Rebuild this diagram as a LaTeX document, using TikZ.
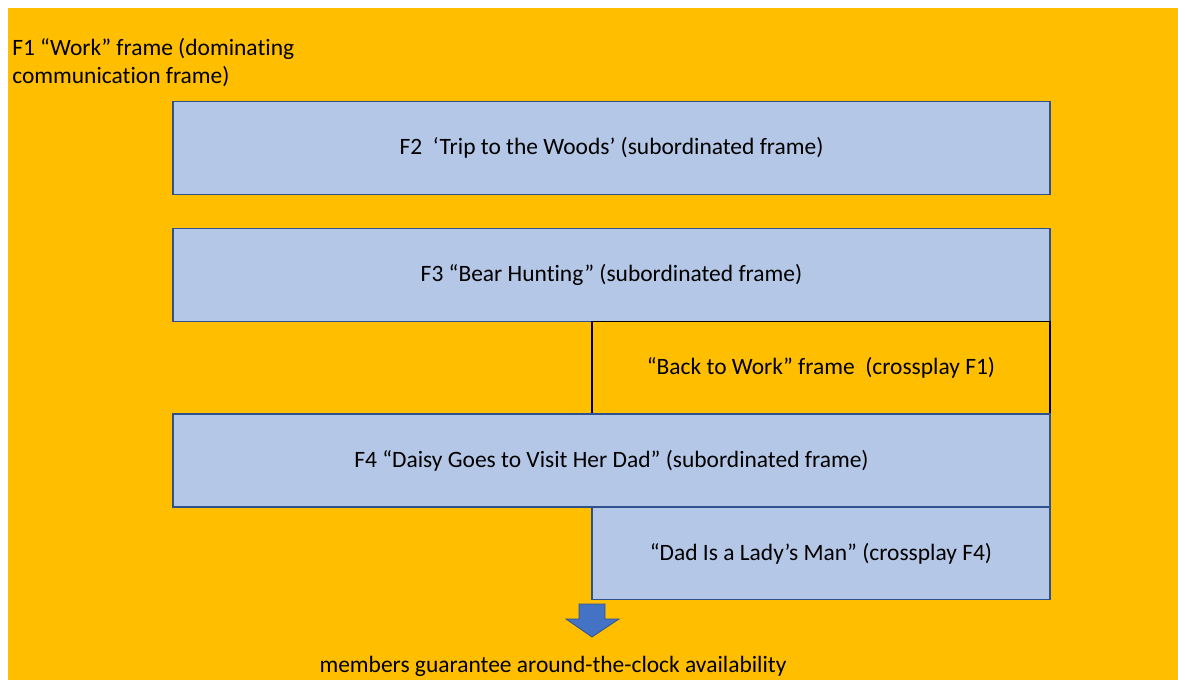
\documentclass[tikz,border=0pt]{standalone}
\usepackage{fontspec}
\setmainfont{Carlito}[Ligatures=CommonOff]
\usepackage{tikz}
\usetikzlibrary{positioning,calc}
\definecolor{gold}{HTML}{FFBF00}
\definecolor{paleblue}{HTML}{B4C7E7}
\definecolor{darkblue}{HTML}{2F528F}
\definecolor{midblue}{HTML}{4472C4}

\begin{document}
\begin{tikzpicture}[x=0.75pt, y=-0.75pt,
        frm/.style={draw=darkblue, fill=paleblue, line width=0.9pt, inner sep=0pt,
                    minimum width=657.75pt, minimum height=69.75pt,
                    font=\fontsize{17.6}{21}\selectfont},
        cross/.style={frm, minimum width=343.5pt, minimum height=69pt},
        lbl/.style={inner sep=0pt, font=\fontsize{17.6}{21}\selectfont},
      ]
        \useasboundingbox (0,0) rectangle (1178,680);
        \fill[white] (0,0) rectangle (1178,680);
        % F1 -- the dominating frame as background
        \fill[gold] (8,8) rectangle (1178,680);
        \node[lbl, anchor=north west, align=left] (work) at (12,38.5)
          {F1 “Work” frame (dominating\\communication frame)};

        % subordinated frames
        \node[frm] (woods) at (611.5,148) {F2\ \ ‘Trip to the Woods’ (subordinated frame)};
        \node[frm] (bear) at (611.5,275) {F3 “Bear Hunting” (subordinated frame)};
        \node[cross, draw=black, fill=gold] (back) at (821,367.5)
          {“Back to Work” frame\ \ (crossplay F1)};
        \node[frm] (daisy) at (611.5,460.5) {F4 “Daisy Goes to Visit Her Dad” (subordinated frame)};
        \node[cross] (lady) at (821,553.5) {“Dad Is a Lady’s Man” (crossplay F4)};

        % down arrow
        \filldraw[fill=midblue, draw=darkblue, line width=0.6pt]
          (579,604) -- (605,604) -- (605,619) -- (619,619) -- (592,637)
          -- (566,619) -- (579,619) -- cycle;
        \node[lbl, anchor=base] (avail) at (553,672)
          {members guarantee around-the-clock availability};
      \end{tikzpicture}
\end{document}
